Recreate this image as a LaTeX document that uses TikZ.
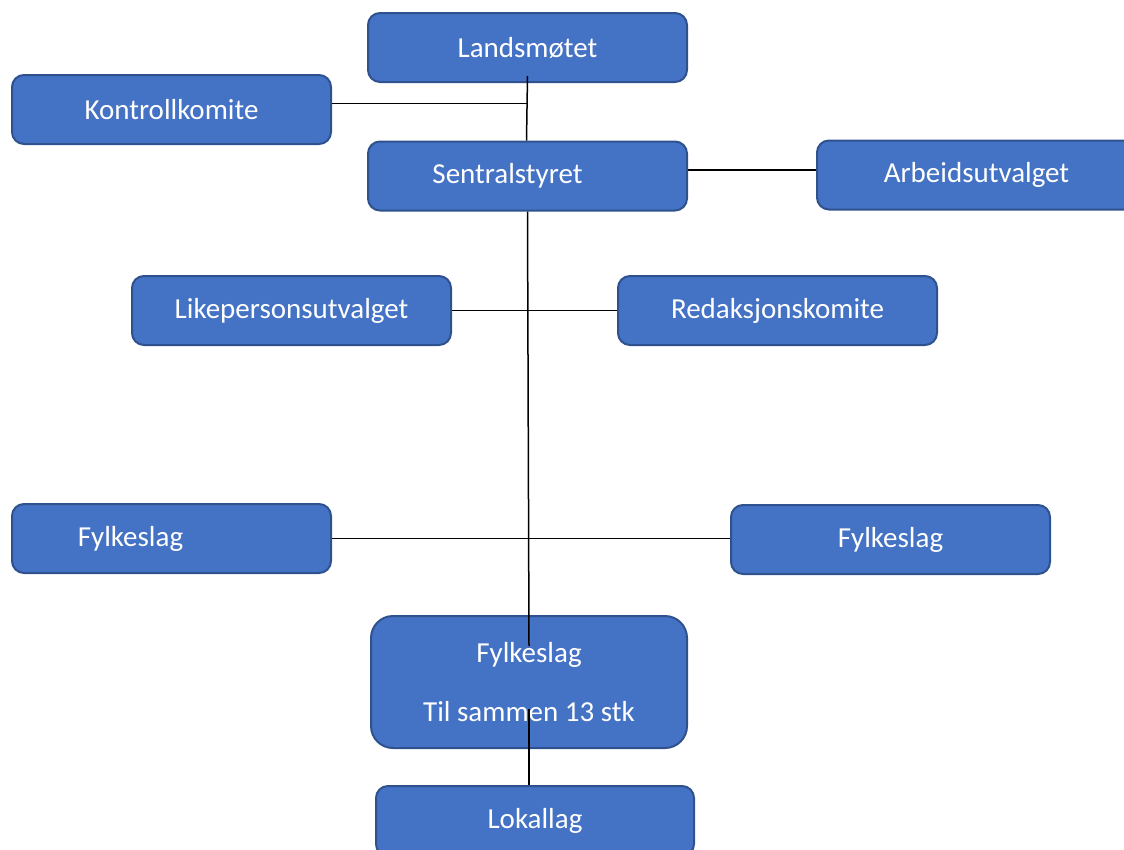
\documentclass[tikz,border=0pt]{standalone}
\usepackage{fontspec}
\setmainfont{Carlito}
\usetikzlibrary{calc}
\definecolor{boxblue}{HTML}{4472C4}
\definecolor{boxedge}{HTML}{2F528F}

\begin{document}
\begin{tikzpicture}[x=1pt,y=-1pt,
    org/.style={draw=boxedge,line width=2pt,fill=boxblue,text=white,rounded corners=12pt,
      minimum width=319pt,minimum height=69pt,inner sep=0pt,
      font=\fontsize{29}{35}\selectfont},
    link/.style={line width=1.5pt,black}]
    \useasboundingbox (0,0) rectangle (1124,849);

    \node[org] (lands) at (527.5,47.5) {Landsmøtet};
    \node[org] (kontroll) at (171.5,109.5) {Kontrollkomite};
    \node[org] (sentral) at (527.5,176) {Sentralstyret\hspace*{40pt}};
    \node[org] (arbeid) at (976.5,175) {Arbeidsutvalget};
    \node[org] (likep) at (291.5,310.5) {Likepersonsutvalget};
    \node[org] (redak) at (777.5,310.5) {Redaksjonskomite};
    \node[org] (fylkeL) at (171.5,538.5) {Fylkeslag\hspace*{82pt}};
    \node[org] (fylkeR) at (890.5,539.5) {Fylkeslag};
    \node[org,minimum width=316pt,minimum height=132pt,rounded corners=22pt,align=center]
      (fylke) at (529,682) {Fylkeslag\\[24pt]Til sammen 13 stk};
    \node[org,minimum width=318pt,minimum height=70pt] (lokal) at (535,821) {Lokallag};

    % lines on top of the boxes
    \draw[link] ([yshift=7pt]lands.south) -- ([xshift=-1pt]sentral.north);
    \draw[link] ([yshift=6pt]kontroll.east) -- ([yshift=6pt]kontroll.east -| lands.south);
    \draw[link] ([yshift=6pt]sentral.east) -- ([yshift=6pt]sentral.east -| arbeid.west);
    \draw[link] (sentral.south) -- ([yshift=-31pt]fylke.north);
    \draw[link] (likep.east) -- (redak.west);
    \draw[link] (fylkeL.east) -- (fylkeL.east -| fylkeR.west);
    \draw[link] ([yshift=40pt]fylke.south) -- (fylke.south |- lokal.north);
\end{tikzpicture}
\end{document}
